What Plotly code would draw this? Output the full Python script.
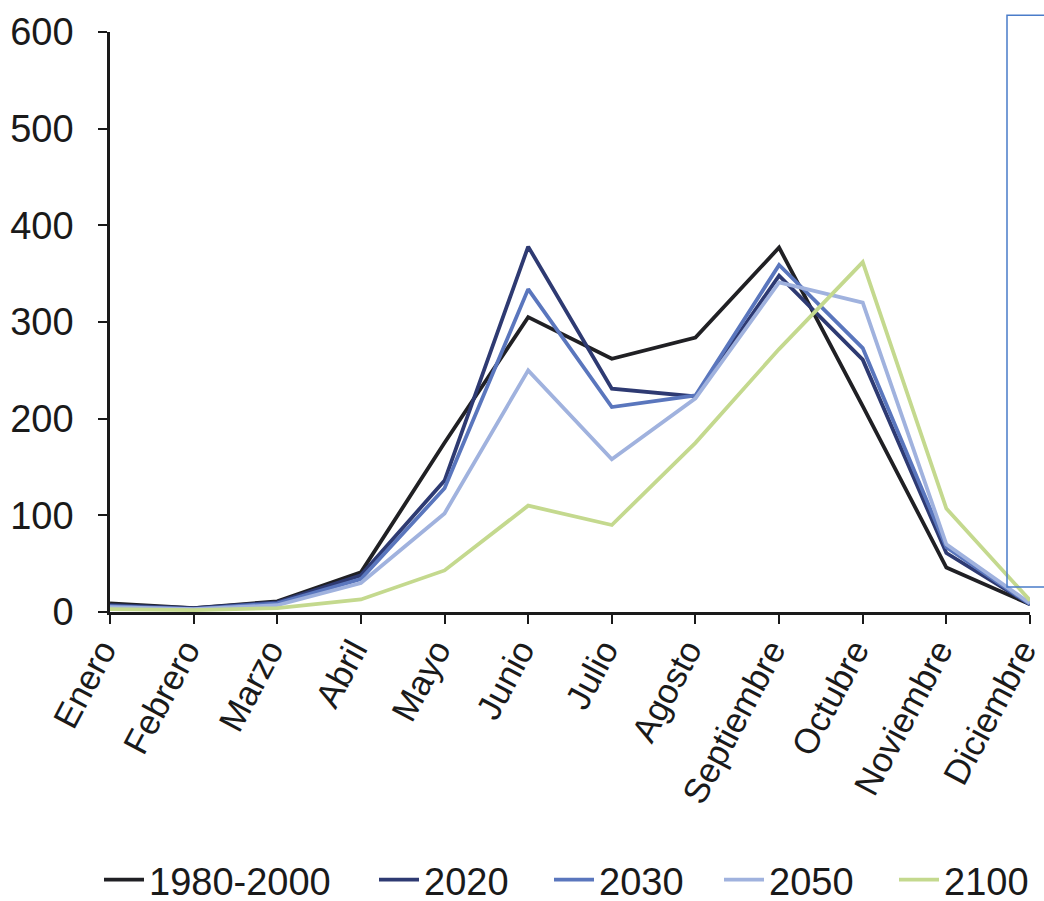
import plotly.graph_objects as go

months = ["Enero", "Febrero", "Marzo", "Abril", "Mayo", "Junio", "Julio",
          "Agosto", "Septiembre", "Octubre", "Noviembre", "Diciembre"]

s_1980_2000 = [9, 4, 11, 41, 175, 305, 262, 284, 377, 213, 46, 8]
s_2020 = [7, 4, 10, 38, 136, 378, 231, 223, 348, 261, 61, 8]
s_2030 = [6, 3, 9, 34, 128, 334, 212, 224, 359, 273, 67, 8]
s_2050 = [5, 3, 7, 30, 102, 250, 158, 221, 341, 320, 70, 9]
s_2100 = [3, 2, 4, 13, 43, 110, 90, 175, 272, 362, 107, 12]

series_names = ["1980-2000", "2020", "2030", "2050", "2100"]
series_values = [s_1980_2000, s_2020, s_2030, s_2050, s_2100]
series_colors = ["#202024", "#2e3a72", "#5a76bd", "#a0b2de", "#c4d98e"]

y_ticks = [0, 100, 200, 300, 400, 500, 600]

W, H = 1044, 901
legend_left_px = [99, 374, 549, 719, 894]
legend_ids = ["legend", "legend2", "legend3", "legend4", "legend5"]

font_family = "Liberation Sans, Arial, sans-serif"

fig = go.Figure()
for name, vals, col, lid in zip(series_names, series_values, series_colors, legend_ids):
    fig.add_trace(go.Scatter(
        x=months, y=vals, name=name, mode="lines",
        line=dict(color=col, width=3.8), legend=lid,
    ))

legend_layout = {}
for lid, px in zip(legend_ids, legend_left_px):
    legend_layout[lid] = dict(
        orientation="h", xref="container", x=px / W, xanchor="left",
        yref="container", y=1 - 880 / H, yanchor="middle",
        font=dict(size=38, family=font_family, color="#1a1a1a"),
        itemwidth=40, bgcolor="rgba(0,0,0,0)", borderwidth=0,
    )

fig.update_layout(
    width=W, height=H, autosize=False,
    margin=dict(l=110, r=14, t=32, b=289),
    paper_bgcolor="white", plot_bgcolor="white",
    font=dict(family=font_family, color="#1a1a1a", size=36),
    showlegend=True,
    xaxis=dict(
        type="category", range=[0, 11], automargin=False,
        showline=True, linecolor="#1a1a1a", linewidth=2.5,
        ticks="outside", ticklen=9, tickwidth=2, tickcolor="#1a1a1a",
        tickangle=-62, tickfont=dict(size=35),
        ticklabelstandoff=-8, ticklabelshift=-8,
        showgrid=False, zeroline=False,
    ),
    yaxis=dict(
        range=[0, 600], tickvals=y_ticks, automargin=False,
        showline=True, linecolor="#1a1a1a", linewidth=2.5,
        ticks="outside", ticklen=9, tickwidth=2, tickcolor="#1a1a1a",
        tickfont=dict(size=38), ticklabelstandoff=17,
        showgrid=False, zeroline=False,
    ),
    shapes=[dict(
        type="rect", xref="paper", yref="paper",
        x0=0.975, x1=1.1, y0=0.043, y1=1.029,
        line=dict(color="#4a7cc9", width=1.5),
        fillcolor="rgba(0,0,0,0)", layer="above",
    )],
    **legend_layout,
)

fig.write_html(
    "out.html",
    config={"responsive": False, "displayModeBar": False},
    default_width="1044px", default_height="901px",
    post_script="document.body.style.margin='0';document.body.style.overflow='hidden';",
)
